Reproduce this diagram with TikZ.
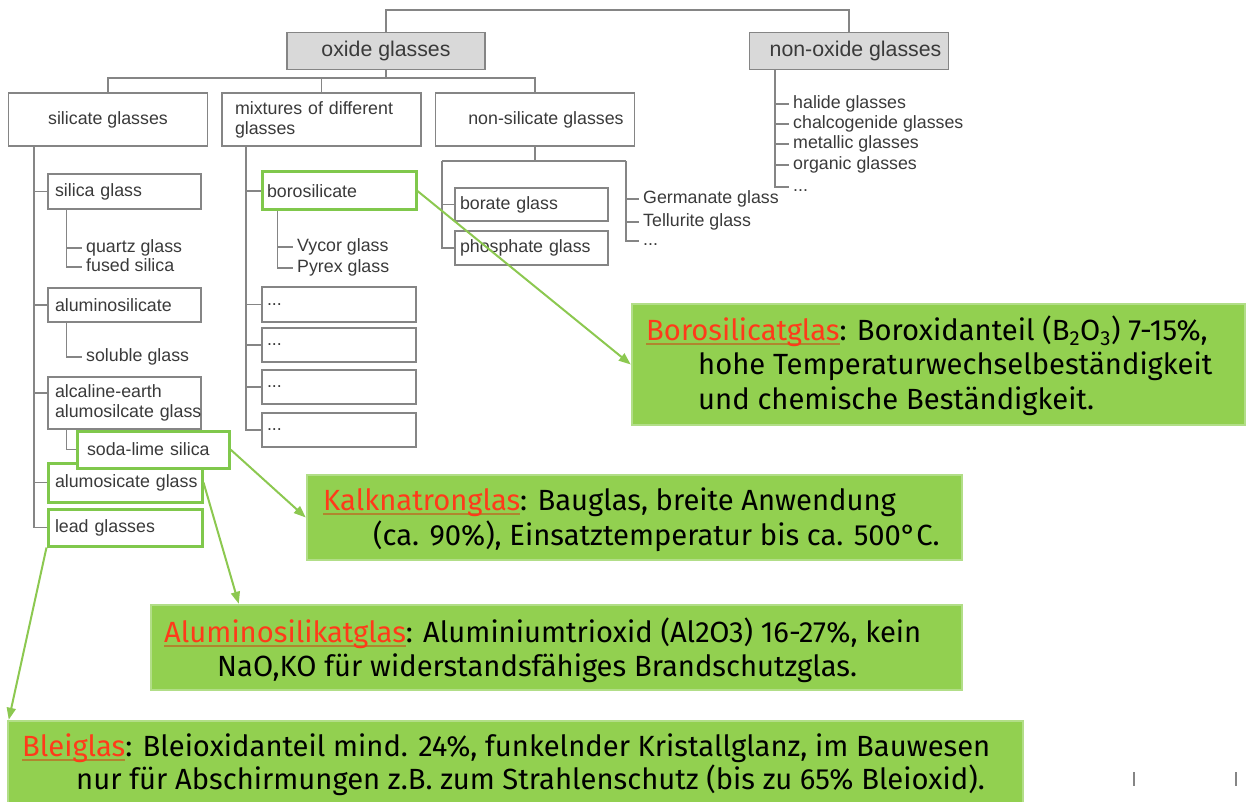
\documentclass[tikz,border=0pt]{standalone}
\usepackage{fontspec}
\setmainfont{Liberation Sans}
\newfontfamily\callfont{Fira Sans}
\usetikzlibrary{arrows.meta,calc}
\definecolor{lin}{HTML}{858585}
\definecolor{txt}{HTML}{3A3A3A}
\definecolor{hdr}{HTML}{D9D9D9}
\definecolor{hlg}{HTML}{80C84C}
\definecolor{arr}{HTML}{8CC850}
\definecolor{callfill}{HTML}{92D050}
\definecolor{callrim}{HTML}{B2DE88}
\definecolor{redt}{HTML}{FF3A1A}
\definecolor{uline}{HTML}{B0862E}
\newcommand{\hlword}[1]{\setbox0\hbox{#1}\rlap{\color{uline}\rule[-5pt]{\wd0}{1.8pt}}\textcolor{redt}{#1}}
\tikzset{
 conn/.style={draw=lin, line width=1.4pt},
 tbox/.style={draw=lin, line width=1.5pt, fill=white, text=txt, inner sep=0pt, font=\fontsize{17.8}{20}\selectfont},
 hbox/.style={tbox, fill=hdr, font=\fontsize{21.3}{24}\selectfont},
 lbox/.style={tbox, align=left, inner xsep=7pt},
 gbox/.style={draw=hlg, line width=3pt},
 item/.style={text=txt, inner xsep=4pt, inner ysep=0pt, anchor=west, text height=12.8pt, text depth=3.8pt, font=\fontsize{17.8}{20}\selectfont},
 callout/.style={fill=callfill, draw=callrim, line width=2.5pt, inner sep=0pt},
 ctext/.style={anchor=base west, inner sep=0pt, font=\callfont\fontsize{29.2}{32}\selectfont},
 garrow/.style={draw=arr, line width=2pt, -{Triangle[length=12pt,width=9pt]}},
}
\begin{document}
\begin{tikzpicture}[x=1pt,y=-1pt]
\useasboundingbox (0,0) rectangle (1247,802);
% headers
\node[hbox, minimum width=198pt, minimum height=37pt] (oxide) at (386,51) {oxide glasses};
\node[hbox, minimum width=199pt, minimum height=37pt] (nonox) at (849,51) {\hspace*{13pt}non-oxide glasses};
% second level
\node[tbox, minimum width=199pt, minimum height=53pt] (sil) at (108,119.5) {silicate glasses};
\node[lbox, text width=173pt, inner xsep=13pt, minimum height=53pt] (mix) at (321.5,119.5) {\mbox{mixtures of different}\\glasses};
\node[tbox, minimum width=199pt, minimum height=53pt] (nonsil) at (535,119.5) {\hspace*{22pt}non-silicate glasses};
% silicate column
\node[lbox, text width=139pt, minimum height=35pt] (silica) at (124.5,191.5) {silica glass};
\node[lbox, text width=139pt, minimum height=34pt] (alumsil) at (124.5,305) {aluminosilicate};
\node[lbox, text width=139pt, minimum height=52pt] (alc) at (124.5,403) {\mbox{alcaline-earth}\\\mbox{alumosilcate glass}};
\node[lbox, gbox, text width=140pt, minimum height=39pt] (alumo) at (125,482.5) {\mbox{alumosicate glass}};
\node[lbox, gbox, text width=140pt, minimum height=37pt] (lead) at (125,527.5) {lead glasses};
\node[lbox, gbox, text width=132pt, inner xsep=10pt, minimum height=37pt] (soda) at (153,449.5) {\mbox{soda-lime silica}};
\node[item] (quartz) at (82,248) {quartz glass};
\node[item] (fused) at (82,267) {fused silica};
\node[item] (soluble) at (82,357) {soluble glass};
% mixtures column
\node[lbox, gbox, text width=144pt, inner xsep=5pt, minimum height=38pt] (boro) at (339,191) {borosilicate};
\node[lbox, text width=144pt, inner xsep=5pt, minimum height=35pt] (d1) at (339,304.5) {...};
\node[lbox, text width=144pt, inner xsep=5pt, minimum height=34pt] (d2) at (339,345) {...};
\node[lbox, text width=144pt, inner xsep=5pt, minimum height=34pt] (d3) at (339,387) {...};
\node[lbox, text width=144pt, inner xsep=5pt, minimum height=34pt] (d4) at (339,430) {...};
\node[item] (vycor) at (293,247) {Vycor glass};
\node[item] (pyrex) at (293,268) {Pyrex glass};
% non-silicate column
\node[lbox, text width=143pt, inner xsep=5pt, minimum height=33pt] (borate) at (531.5,204.5) {borate glass};
\node[lbox, text width=143pt, inner xsep=5pt, minimum height=34pt] (phos) at (531.5,248) {phosphate glass};
\node[item] (germ) at (639,199) {Germanate glass};
\node[item] (tell) at (639,222) {Tellurite glass};
\node[item] (ndots) at (639,241) {...};
% non-oxide list
\node[item] (halide) at (789,104) {halide glasses};
\node[item] (chalco) at (789,124) {chalcogenide glasses};
\node[item] (metal) at (789,144) {metallic glasses};
\node[item] (organic) at (789,165) {organic glasses};
\node[item] (odots) at (789,187) {...};
% connectors: top
\coordinate (topy) at (0,10);
\draw[conn] (oxide.north) -- (oxide.north |- topy) -- (nonox.north |- topy) -- (nonox.north);
\coordinate (oby) at (0,78);
\draw[conn] (oxide.south) -- (oxide.south |- oby);
\draw[conn] (sil.north) -- (sil.north |- oby) -- (nonsil.north |- oby) -- (nonsil.north);
\draw[conn] (mix.north |- oby) -- (mix.north);
% silicate trunk
\coordinate (st) at (34,0);
\coordinate (alcb) at ($(alc.west)+(0,-10)$);
\draw[conn] (sil.south -| st) -- (lead.west -| st) -- (lead.west);
\draw[conn] (silica.west -| st) -- (silica.west);
\draw[conn] (alumsil.west -| st) -- (alumsil.west);
\draw[conn] (alcb -| st) -- (alcb);
\draw[conn] (alumo.west -| st) -- (alumo.west);
\coordinate (s1) at ($(silica.south west)+(19,0)$);
\draw[conn] (s1) |- (quartz.west);
\draw[conn] (s1) |- (fused.west);
\coordinate (s2) at ($(alumsil.south west)+(19,0)$);
\draw[conn] (s2) |- (soluble.west);
\coordinate (s3) at ($(alc.south west)+(19,0)$);
\draw[conn] (s3) |- (soda.west);
% mixtures trunk
\coordinate (mt) at (246,0);
\draw[conn] (mix.south -| mt) -- (d4.west -| mt) -- (d4.west);
\draw[conn] (boro.west -| mt) -- (boro.west);
\draw[conn] (d1.west -| mt) -- (d1.west);
\draw[conn] (d2.west -| mt) -- (d2.west);
\draw[conn] (d3.west -| mt) -- (d3.west);
\coordinate (m1) at ($(boro.south west)+(17,0)$);
\draw[conn] (m1) |- (vycor.west);
\draw[conn] (m1) |- (pyrex.west);
% non-silicate bracket
\coordinate (nby) at (0,161);
\coordinate (nl) at (442,161);
\coordinate (nr) at (626,161);
\draw[conn] (nonsil.south) -- (nonsil.south |- nby);
\draw[conn] (nl) -- (nr);
\draw[conn] (nl) |- (phos.west);
\draw[conn] (nl |- borate.west) -- (borate.west);
\draw[conn] (nr) |- (ndots.west);
\draw[conn] (nr |- germ.west) -- (germ.west);
\draw[conn] (nr |- tell.west) -- (tell.west);
% non-oxide list
\coordinate (ox) at (775,0);
\draw[conn] (nonox.south -| ox) -- (odots.west -| ox) -- (odots.west);
\draw[conn] (halide.west -| ox) -- (halide.west);
\draw[conn] (chalco.west -| ox) -- (chalco.west);
\draw[conn] (metal.west -| ox) -- (metal.west);
\draw[conn] (organic.west -| ox) -- (organic.west);
% callouts
\node[callout, minimum width=613pt, minimum height=121pt] (C1) at (938.5,364.5) {};
\node[callout, minimum width=655pt, minimum height=85pt] (C2) at (634.5,517.5) {};
\node[callout, minimum width=811pt, minimum height=85pt] (C3) at (556.5,647.5) {};
\node[callout, minimum width=1015pt, minimum height=89pt] (C4) at (515.5,765.5) {};
\node[ctext] (c1a) at (646,340) {\hlword{Borosilicatglas}: Boroxidanteil (B\textsubscript{2}O\textsubscript{3}) 7-15\%,};
\node[ctext] (c1b) at (698,374) {hohe Temperaturwechselbeständigkeit};
\node[ctext] (c1c) at (698,409) {und chemische Beständigkeit.};
\node[ctext] (c2a) at (323,510) {\hlword{Kalknatronglas}: Bauglas, breite Anwendung};
\node[ctext] (c2b) at (373,545) {(ca. 90\%), Einsatztemperatur bis ca. 500°C.};
\node[ctext] (c3a) at (164,642) {\hlword{Aluminosilikatglas}: Aluminiumtrioxid (Al2O3) 16-27\%, kein};
\node[ctext] (c3b) at (217,676) {NaO,KO für widerstandsfähiges Brandschutzglas.};
\node[ctext] (c4a) at (22,756) {\hlword{Bleiglas}: Bleioxidanteil mind. 24\%, funkelnder Kristallglanz, im Bauwesen};
\node[ctext] (c4b) at (76,789) {nur für Abschirmungen z.B. zum Strahlenschutz (bis zu 65\% Bleioxid).};
% arrows
\draw[garrow] (boro.east) -- (C1.west);
\draw[garrow] (soda.east) -- (C2.west);
\draw[garrow] (alumo.east) -- ($(C3.north west)+(89,0)$);
\draw[garrow] (lead.south west) -- ($(C4.north west)+(2,0)$);
% marks bottom right
\draw[lin, line width=1.2pt] (1134,772) -- (1134,786);
\draw[lin, line width=1.2pt] (1236,772) -- (1236,786);
\end{tikzpicture}
\end{document}
